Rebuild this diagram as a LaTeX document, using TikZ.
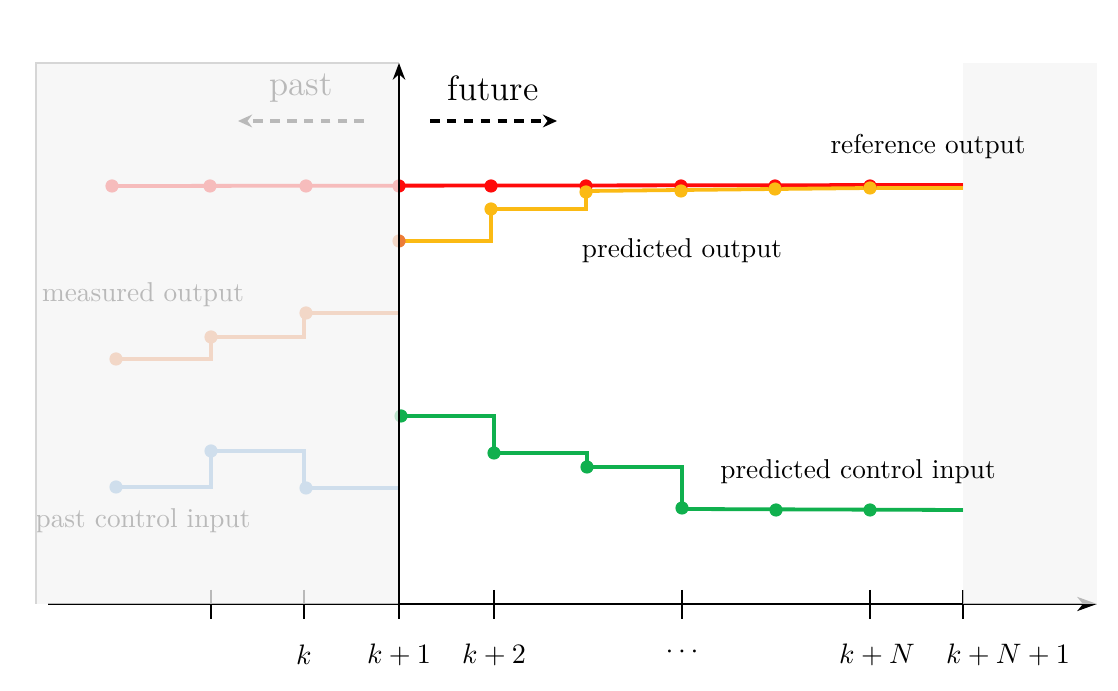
\documentclass[tikz,border=0pt]{standalone}
\usetikzlibrary{arrows.meta}
\definecolor{cred}{HTML}{FF0A0A}
\definecolor{cyel}{HTML}{FBBA14}
\definecolor{cgrn}{HTML}{10B04E}
\definecolor{corg}{HTML}{EC7C38}
\definecolor{cblu}{HTML}{5B9BD5}
\definecolor{cshade}{HTML}{F4F4F4}
\definecolor{bordergray}{HTML}{D6D6D6}
\begin{document}
\begin{tikzpicture}[x=0.0125cm,y=-0.0125cm,
  sig/.style={line width=1.35pt},
  dotr/.style={circle,fill,inner sep=0pt,minimum size=0.165cm},
  tck/.style={line width=0.75pt},
  lbl/.style={font=\fontsize{9.7}{12}\selectfont,inner sep=0pt},
  big/.style={font=\fontsize{12.5}{15}\selectfont,inner sep=0pt},
  dasharrow/.style={line width=1.1pt,dash pattern=on 3.4pt off 2.6pt,-{Stealth[length=5pt,width=4.5pt]}}]
\useasboundingbox (0,0) rectangle (1118,691);
% axes
\coordinate (xs) at (48,604);
\coordinate (xe) at (1097,604);
\draw[line width=0.9pt,-{Stealth[length=7pt,width=5pt,inset=2pt]}] (xs) -- (xe);
\foreach \x in {211,304,399,494,682,870,963}{
  \draw[tck] (\x,590) -- (\x,619);
}
\node[lbl] (t1) at (304,655) {$k$};
\node[lbl] (t2) at (399,655) {$k+1$};
\node[lbl] (t3) at (494,655) {$k+2$};
\node[lbl] (t4) at (682,652) {$\cdots$};
\node[lbl] (t5) at (877,655) {$k+N$};
\node[lbl] (t6) at (1008,655) {$k+N+1$};
% reference
\draw[sig,cred] (112,186) -- (963,185);
% predicted output
\draw[sig,cyel] (399,241) -- (491,241) -- (491,209) -- (586,209) -- (586,191) -- (681,190) -- (775,189) -- (870,188) -- (963,188);
\foreach \x in {112,210,306,399,491,586,681,775,870}{
  \node[dotr,cred] at (\x,186) {};
}
\node[dotr,corg] at (399,241) {};
\node[dotr,cyel] at (491,209) {};
\node[dotr,cyel] at (586,192) {};
\node[dotr,cyel] at (681,191) {};
\node[dotr,cyel] at (775,189) {};
\node[dotr,cyel] at (870,188) {};
% measured output
\draw[sig,corg] (116,359) -- (211,359) -- (211,337) -- (304,337) -- (304,313) -- (399,313);
\node[dotr,corg] at (116,359) {};
\node[dotr,corg] at (211,337) {};
\node[dotr,corg] at (306,313) {};
% past control input
\draw[sig,cblu] (116,487) -- (211,487) -- (211,451) -- (304,451) -- (304,488) -- (399,488);
\node[dotr,cblu] at (116,487) {};
\node[dotr,cblu] at (211,451) {};
\node[dotr,cblu] at (306,488) {};
% predicted control input
\draw[sig,cgrn] (399,416) -- (494,416) -- (494,453) -- (587,453) -- (587,467) -- (682,467) -- (682,509) -- (963,510);
\node[dotr,cgrn] at (401,416) {};
\node[dotr,cgrn] at (494,453) {};
\node[dotr,cgrn] at (587,467) {};
\node[dotr,cgrn] at (682,508) {};
\node[dotr,cgrn] at (776,510) {};
\node[dotr,cgrn] at (870,510) {};
% labels
\node[big] (past) at (301,88) {past};
\coordinate (pa1) at (364,121);
\coordinate (pa2) at (238,121);
\draw[dasharrow] (pa1) -- (pa2);
\node[lbl] (mo) at (143,295) {measured output};
\node[lbl] (pci) at (143,521) {past control input};
% shading overlays
\fill[cshade,opacity=0.76] (36,63) rectangle (398.5,604);
\draw[bordergray,line width=0.4pt] (36,604) -- (36,63) -- (398.5,63);
\fill[cshade,opacity=0.76] (963,63) rectangle (1097,604);
% vertical axis
\coordinate (ys) at (399,604);
\coordinate (ye) at (399,63);
\draw[line width=0.6pt,-{Stealth[length=6pt,width=4.5pt,inset=2pt]}] (ys) -- (ye);
% future side labels
\node[big] (fut) at (493,88) {future};
\coordinate (fa1) at (430,121);
\coordinate (fa2) at (557,121);
\draw[dasharrow] (fa1) -- (fa2);
\node[lbl] (ro) at (928,147) {reference output};
\node[lbl] (po) at (682,251) {predicted output};
\node[lbl] (pcin) at (858,472) {predicted control input};
\end{tikzpicture}
\end{document}
